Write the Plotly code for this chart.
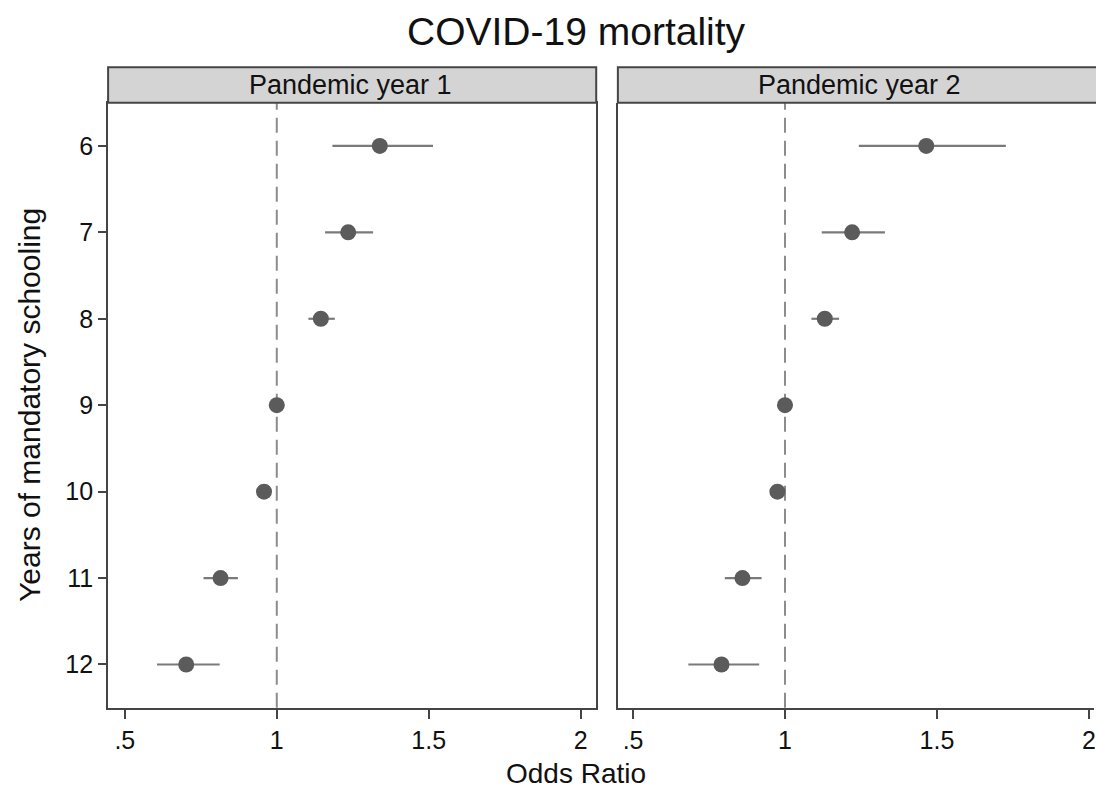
import plotly.graph_objects as go

# ---- data ----
years = [6, 7, 8, 9, 10, 11, 12]
ytick_labels = ["6", "7", "8", "9", "10", "11", "12"]
xtick_vals = [0.5, 1, 1.5, 2]
xtick_labels = [".5", "1", "1.5", "2"]

or_y1 = [1.339, 1.235, 1.145, 1.000, 0.958, 0.815, 0.702]
lo_y1 = [1.183, 1.159, 1.104, 1.000, 0.940, 0.759, 0.606]
hi_y1 = [1.514, 1.317, 1.191, 1.000, 0.976, 0.872, 0.812]

or_y2 = [1.465, 1.221, 1.131, 1.000, 0.975, 0.860, 0.791]
lo_y2 = [1.243, 1.121, 1.087, 1.000, 0.957, 0.802, 0.682]
hi_y2 = [1.727, 1.329, 1.178, 1.000, 0.993, 0.923, 0.915]

panel_titles = ["Pandemic year 1", "Pandemic year 2"]
title_text = "COVID-19 mortality"
xtitle = "Odds Ratio"
ytitle = "Years of mandatory schooling"

# ---- layout geometry (pixels) ----
W, H = 1096, 789
FONT = "Liberation Sans, Arial, sans-serif"
def px(x):
    return x / W
def py(y):
    return 1 - y / H

plot_top, plot_bot = 102.7, 707.7
strip_top = 67.3
p1 = (108.3, 597.3)
p2 = (619.0, 1096.0)

LINE = "#454545"
MARK = "#5b5b5b"
CI = "#7a7a7a"
REF = "#8c8c8c"

fig = go.Figure()

def add_panel(orv, lo, hi, xa, ya):
    plus = [h - o for h, o in zip(hi, orv)]
    minus = [o - l for o, l in zip(orv, lo)]
    fig.add_trace(go.Scatter(
        x=orv, y=years, mode="markers", xaxis=xa, yaxis=ya,
        marker=dict(size=16, color=MARK, line=dict(width=0)),
        error_x=dict(type="data", symmetric=False, array=plus, arrayminus=minus,
                     width=0, thickness=2.2, color=CI),
        showlegend=False, hoverinfo="skip"))

add_panel(or_y1, lo_y1, hi_y1, "x", "y")
add_panel(or_y2, lo_y2, hi_y2, "x2", "y2")

ydom = [py(plot_bot), py(plot_top)]
common_x = dict(tickmode="array", tickvals=xtick_vals, ticktext=xtick_labels,
                ticks="outside", ticklen=9, tickwidth=1.5, tickcolor=LINE,
                tickfont=dict(family=FONT, size=25, color="#111"),
                showgrid=False, zeroline=False, showline=True,
                linecolor=LINE, linewidth=2, ticklabeloverflow="allow")

fig.update_layout(
    width=W, height=H, autosize=False,
    margin=dict(l=0, r=0, t=0, b=0),
    paper_bgcolor="white", plot_bgcolor="white",
    xaxis=dict(domain=[px(p1[0]), px(p1[1])], range=[0.445, 2.051],
               mirror=True, anchor="y", **common_x),
    xaxis2=dict(domain=[px(p2[0]), 1.0], range=[0.45, 2.017],
                mirror=False, anchor="y2", **common_x),
    yaxis=dict(domain=ydom, range=[12.5, 5.5], tickmode="array",
               tickvals=years, ticktext=ytick_labels,
               ticks="outside", ticklen=8, tickwidth=1.5, tickcolor=LINE,
               tickfont=dict(family=FONT, size=25, color="#111"),
               showgrid=False, zeroline=False, showline=True,
               linecolor=LINE, linewidth=2, mirror=True, anchor="x"),
    yaxis2=dict(domain=ydom, range=[12.5, 5.5], showticklabels=False,
                ticks="", showgrid=False, zeroline=False, showline=True,
                linecolor=LINE, linewidth=2, mirror=False, anchor="x2"),
)

# reference lines at OR = 1
for xr, yr in (("x", "y"), ("x2", "y2")):
    fig.add_shape(type="line", xref=xr, yref=yr + " domain", x0=1, x1=1, y0=0, y1=1,
                  line=dict(color=REF, width=2, dash="15px,8px"), layer="below")

# strips
fig.add_shape(type="rect", xref="paper", yref="paper",
              x0=px(p1[0]), x1=px(p1[1]), y0=py(plot_top), y1=py(strip_top),
              fillcolor="#d4d4d4", line=dict(color=LINE, width=2))
fig.add_shape(type="rect", xref="paper", yref="paper",
              x0=px(p2[0]), x1=1.02, y0=py(plot_top), y1=py(strip_top),
              fillcolor="#d4d4d4", line=dict(color=LINE, width=2))

ann = []
ann.append(dict(text=panel_titles[0], x=px(351), y=py(85), xref="paper", yref="paper",
                showarrow=False, xanchor="center", yanchor="middle",
                font=dict(family=FONT, size=27, color="#111")))
ann.append(dict(text=panel_titles[1], x=px(861), y=py(85), xref="paper", yref="paper",
                showarrow=False, xanchor="center", yanchor="middle",
                font=dict(family=FONT, size=27, color="#111")))
ann.append(dict(text=title_text, x=px(577.5), y=py(32), xref="paper", yref="paper",
                showarrow=False, xanchor="center", yanchor="middle",
                font=dict(family=FONT, size=39, color="#111")))
ann.append(dict(text=xtitle, x=px(577.5), y=py(773), xref="paper", yref="paper",
                showarrow=False, xanchor="center", yanchor="middle", borderpad=0,
                font=dict(family=FONT, size=28, color="#111")))
ann.append(dict(text=ytitle, x=px(30), y=py(405), xref="paper", yref="paper",
                showarrow=False, xanchor="center", yanchor="middle", textangle=-90,
                font=dict(family=FONT, size=30, color="#111")))
fig.update_layout(annotations=ann)

fig.write_html("out.html", config={"displayModeBar": False},
               post_script="document.body.style.margin='0';document.body.style.overflow='hidden';")
